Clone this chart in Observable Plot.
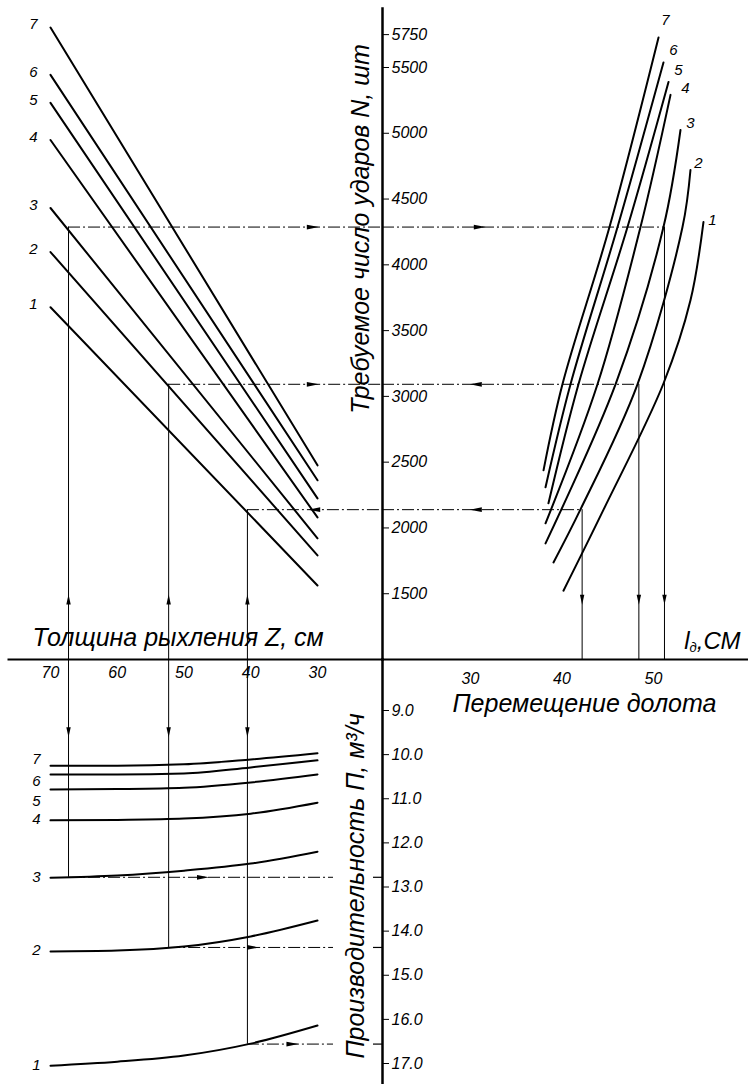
<!DOCTYPE html>
<html><head><meta charset="utf-8">
<script src="https://cdn.jsdelivr.net/npm/d3@7"></script>
<script src="https://cdn.jsdelivr.net/npm/@observablehq/plot@0.6"></script>
<style>
body{margin:0;background:#fff;}
#chart{position:relative;width:748px;height:1084px;background:#fff;}
#chart svg{position:absolute;left:0;top:0;background:transparent;overflow:visible;}
</style></head><body><div id="chart"></div>
<script>
// ---------- data ----------
const curveIds = [1, 2, 3, 4, 5, 6, 7];
// top-left: required strikes N vs loosening thickness Z (straight lines Z=70 -> Z=30)
const zEnds = [70, 30];
const nAtZ70 = [3678, 4097, 4432, 4949, 5231, 5444, 5804];
const nAtZ30 = [1563, 1791, 1921, 2080, 2225, 2362, 2476];
// top-right: N vs bit displacement l
const curveL = [
  [40.16, 44.54, 51.09, 54.04, 55.46],
  [39.07, 42.02, 48.25, 53.17, 54.04],
  [38.20, 45.85, 51.09, 52.95],
  [38.20, 43.88, 48.58, 51.86],
  [38.52, 41.80, 47.16, 51.64],
  [38.20, 40.93, 46.07, 51.09],
  [37.98, 40.05, 45.19, 50.55]
];
const curveN = [
  [1523, 2139, 3098, 3730, 4325],
  [1738, 2141, 3092, 4287, 4721],
  [1883, 3092, 4287, 5025],
  [2035, 3092, 4287, 5292],
  [2187, 3092, 4287, 5390],
  [2309, 3092, 4287, 5538],
  [2438, 3092, 4287, 5728]
];
// where the curve numbers of the top-right panel are written (l, N)
const rightLabelL = [56.45, 54.92, 54.04, 53.50, 52.73, 52.19, 51.31];
const rightLabelN = [4337, 4770, 5074, 5340, 5477, 5629, 5857];
// bottom-left: productivity P vs Z
const zGrid = [70, 60, 50, 40, 30];
const prodP = [
  [17.05, 16.96, 16.82, 16.55, 16.14],
  [14.46, 14.44, 14.35, 14.12, 13.76],
  [12.79, 12.74, 12.63, 12.47, 12.20],
  [11.49, 11.48, 11.45, 11.34, 11.09],
  [10.79, 10.78, 10.75, 10.63, 10.45],
  [10.45, 10.45, 10.43, 10.29, 10.13],
  [10.25, 10.25, 10.22, 10.11, 9.97]
];
// curve number labels of the bottom panel (P value where each number is written)
const prodLabelP = [17.05, 14.46, 12.79, 11.49, 11.08, 10.63, 10.13];
// worked examples (key lines)
const exZ = [67.3, 52.3, 40.5];
const exN = [4287, 3092, 2139];
const exL = [51.2, 48.4, 42.2];
const exP = [12.78, 14.37, 16.56];
// ticks
const nTicks = [1500, 2000, 2500, 3000, 3500, 4000, 4500, 5000, 5500, 5750];
const zTicks = [70, 60, 50, 40, 30];
const lTicks = [30, 40, 50];
const pTicks = [9, 10, 11, 12, 13, 14, 15, 16, 17];

// ---------- layout ----------
const W = 748, H = 1084, AX = 382, AY = 659, TOP = 8;
const FONT = '"Liberation Sans", Arial, sans-serif';
const xZ = {domain: [70, 30], range: [50, 317]};
const yN = {domain: [1000, 5500], range: [AY, 67]};
const xL = {domain: [30, 50], range: [470, 653]};
const yP = {domain: [9, 17], range: [710, 1063]};
const zAtAxis = Plot.scale({x: xZ}).invert(AX);
const zAtTickStart = Plot.scale({x: xZ}).invert(AX - 9);
const zAtDashEnd = Plot.scale({x: xZ}).invert(333);
const lAtAxis = Plot.scale({x: xL}).invert(AX);
const pAtAxis = Plot.scale({y: yP}).invert(AY);
const style = `background:transparent;overflow:visible;font-family:${FONT};font-style:italic;font-size:16px;color:#000;`;

const mk = (dx1, dy1, dx2, dy2, dx3, dy3) => ({draw(c) { c.moveTo(dx1, dy1); c.lineTo(dx2, dy2); c.lineTo(dx3, dy3); c.closePath(); }});
const arrUp = mk(0, -7, 2.2, 3, -2.2, 3);
const arrDown = mk(0, 7, 2.2, -3, -2.2, -3);
const arrRight = mk(8, 0, -4, 2.4, -4, -2.4);
const arrLeft = mk(-8, 0, 4, 2.4, 4, -2.4);
const dash = "12,3,2,3";

// ---------- top-left ----------
const leftLines = curveIds.flatMap((id, i) => zEnds.map((z, j) => ({id, z, n: j ? nAtZ30[i] : nAtZ70[i]})));
const plotA = Plot.plot({
  width: W, height: H, marginLeft: 8, marginRight: W - AX, marginTop: TOP, marginBottom: H - AY,
  x: {...xZ, axis: null}, y: {...yN, axis: null}, style,
  marks: [
    Plot.frame({anchor: "bottom", strokeWidth: 2}),
    Plot.frame({anchor: "right", strokeWidth: 2.5}),
    Plot.axisX(zTicks, {anchor: "bottom", label: null, tickSize: 0, tickPadding: 7, tickFormat: d => String(d)}),
    Plot.axisY(nTicks, {anchor: "right", label: null, tickSize: 6, tickPadding: 3, tickFormat: d => String(d)}),
    Plot.line(leftLines, {x: "z", y: "n", z: "id", strokeWidth: 2, strokeLinecap: "round"}),
    Plot.text(curveIds, {x: () => zEnds[0], y: (d, i) => nAtZ70[i], text: d => String(d), dx: -17, dy: -3, fontSize: 15}),
    Plot.ruleX(exZ, {x: d => d, y1: () => yN.domain[0], y2: (d, i) => exN[i], strokeWidth: 1}),
    Plot.ruleY(exN, {y: d => d, x1: (d, i) => exZ[i], x2: () => zAtAxis, strokeWidth: 1, strokeDasharray: dash}),
    Plot.dot(exZ, {x: d => d, y: () => 1440, symbol: arrUp, fill: "black", stroke: null}),
    Plot.dot(exN.slice(0, 2), {x: () => 31, y: d => d, symbol: arrRight, fill: "black", stroke: null}),
    Plot.dot(exN.slice(2), {x: () => 30.2, y: d => d, symbol: arrLeft, fill: "black", stroke: null}),
    Plot.text(["Требуемое число ударов N, шт"], {frameAnchor: "right", textAnchor: "middle", rotate: -90, dx: -22, dy: -105, fontSize: 25}),
    Plot.text(["Толщина рыхления Z, см"], {frameAnchor: "bottom-left", textAnchor: "start", lineAnchor: "bottom", dx: 24, dy: -14, fontSize: 25})
  ]
});

// ---------- top-right ----------
const rightCurves = curveIds.flatMap((id, i) => curveL[i].map((l, j) => ({id, l, n: curveN[i][j]})));
const plotB = Plot.plot({
  width: W, height: H, marginLeft: AX, marginRight: 0, marginTop: TOP, marginBottom: H - AY,
  x: {...xL, axis: null}, y: {...yN, axis: null}, style,
  marks: [
    Plot.frame({anchor: "bottom", strokeWidth: 2}),
    Plot.axisX(lTicks, {anchor: "bottom", label: null, tickSize: 0, tickPadding: 13, tickFormat: d => String(d)}),
    Plot.line(rightCurves, {x: "l", y: "n", z: "id", curve: "catmull-rom", strokeWidth: 2, strokeLinecap: "round"}),
    Plot.text(curveIds, {x: (d, i) => rightLabelL[i], y: (d, i) => rightLabelN[i], text: d => String(d), fontSize: 15}),
    Plot.ruleY(exN, {y: d => d, x1: () => lAtAxis, x2: (d, i) => exL[i], strokeWidth: 1, strokeDasharray: dash}),
    Plot.ruleX(exL, {x: d => d, y1: () => yN.domain[0], y2: (d, i) => exN[i], strokeWidth: 1}),
    Plot.dot(exN.slice(0, 1), {x: () => 30.8, y: d => d, symbol: arrRight, fill: "black", stroke: null}),
    Plot.dot(exN.slice(1), {x: () => 30.8, y: d => d, symbol: arrLeft, fill: "black", stroke: null}),
    Plot.dot(exL, {x: d => d, y: () => 1470, symbol: arrDown, fill: "black", stroke: null}),
    Plot.text(["Перемещение долота"], {frameAnchor: "bottom-left", textAnchor: "start", lineAnchor: "bottom", dx: 70, dy: 52, fontSize: 25}),
    Plot.text(["lд,СМ"], {frameAnchor: "bottom-right", textAnchor: "end", lineAnchor: "bottom", dx: -8, dy: -11, fontSize: 24})
  ]
});

// ---------- bottom-left ----------
const prodCurves = curveIds.flatMap((id, i) => zGrid.map((z, j) => ({id, z, p: prodP[i][j]})));
const plotC = Plot.plot({
  width: W, height: H, marginLeft: 8, marginRight: W - AX, marginTop: AY, marginBottom: 0,
  x: {...xZ, axis: null}, y: {...yP, axis: null}, style,
  marks: [
    Plot.frame({anchor: "right", strokeWidth: 2.5}),
    Plot.axisY(pTicks, {anchor: "right", label: null, tickSize: 6, tickPadding: 3, tickFormat: d => d.toFixed(1)}),
    Plot.line(prodCurves, {x: "z", y: "p", z: "id", curve: "monotone-x", strokeWidth: 2, strokeLinecap: "round"}),
    Plot.text(curveIds, {x: () => zGrid[0], y: (d, i) => prodLabelP[i], text: d => String(d), dx: -14, dy: -1, fontSize: 15}),
    Plot.ruleX(exZ, {x: d => d, y1: () => pAtAxis, y2: (d, i) => exP[i], strokeWidth: 1}),
    Plot.ruleY(exP, {y: d => d, x1: (d, i) => exZ[i], x2: () => zAtDashEnd, strokeWidth: 1, strokeDasharray: dash}),
    Plot.ruleY(exP, {y: d => d, x1: () => zAtTickStart, x2: () => zAtAxis, strokeWidth: 1.2}),
    Plot.dot(exZ, {x: d => d, y: () => 9.45, symbol: arrDown, fill: "black", stroke: null}),
    Plot.dot(exP, {x: (d, i) => (exZ[i] + zAtDashEnd) / 2, y: d => d, symbol: arrRight, fill: "black", stroke: null}),
    Plot.text(["Производительность П, м³/ч"], {frameAnchor: "right", textAnchor: "middle", rotate: -90, dx: -27, dy: 14, fontSize: 25})
  ]
});

const chart = document.getElementById("chart");
chart.append(plotA, plotB, plotC);

// subscript for the displacement unit label
for (const t of plotB.querySelectorAll("text")) {
  if (t.textContent === "lд,СМ") {
    t.textContent = "";
    const ns = "http://www.w3.org/2000/svg";
    const a = document.createElementNS(ns, "tspan"); a.textContent = "l";
    const b = document.createElementNS(ns, "tspan"); b.textContent = "д"; b.setAttribute("font-size", "13"); b.setAttribute("dy", "3");
    const c = document.createElementNS(ns, "tspan"); c.textContent = ",СМ"; c.setAttribute("dy", "-3");
    t.append(a, b, c);
  }
}
</script></body></html>
